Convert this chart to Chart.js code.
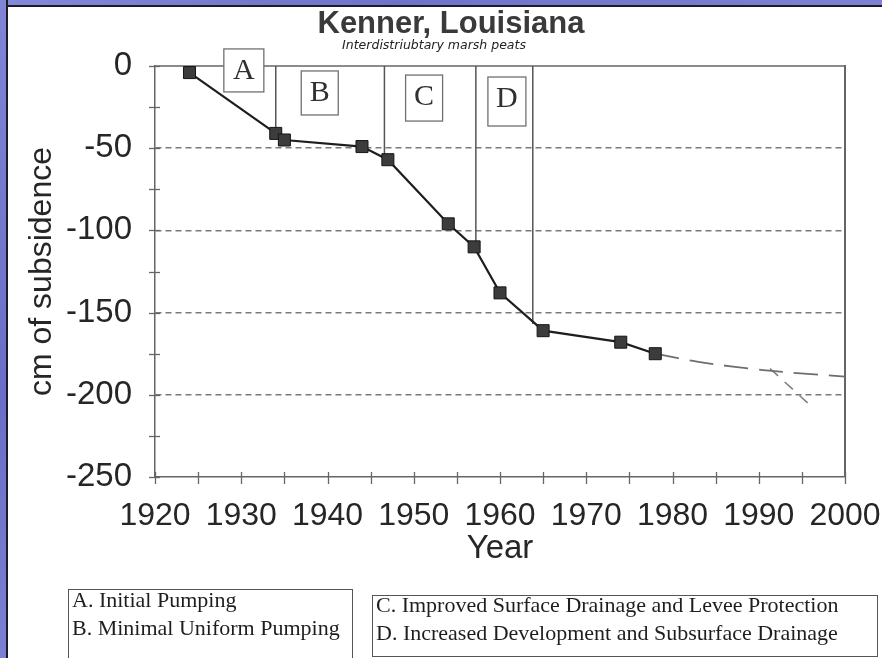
<!DOCTYPE html>
<html>
<head>
<meta charset="utf-8">
<script src="https://cdn.jsdelivr.net/npm/chart.js@4/dist/chart.umd.min.js"></script>
<style>
html,body{margin:0;padding:0;width:882px;height:658px;overflow:hidden;background:#fff;}
#wrap{position:relative;width:882px;height:658px;background:#fff;}
#c{position:absolute;left:0;top:0;}
.frameTop{position:absolute;left:0;top:0;width:882px;height:5px;background:linear-gradient(90deg,#8488d8,#6e72c9 45%,#7e82d4);border-bottom:2px solid #1c1c28;}
.frameLeft{position:absolute;left:0;top:0;width:6px;height:658px;background:linear-gradient(180deg,#8185d6,#6a6ec6 60%,#7c80d2);border-right:2px solid #1c1c28;}
.box{position:absolute;border:1px solid #555;box-sizing:border-box;}
.leg{position:absolute;font-family:"Liberation Serif","Times New Roman",serif;font-size:22px;line-height:28px;color:#1e1e1e;white-space:nowrap;}
</style>
</head>
<body>
<div id="wrap">
<canvas id="c" width="882" height="658"></canvas>
<div class="frameTop"></div>
<div class="frameLeft"></div>
<div class="box" style="left:68px;top:589px;width:285px;height:90px;"></div>
<div class="leg" style="left:72px;top:586px;">A. Initial Pumping</div>
<div class="leg" style="left:72px;top:614px;">B. Minimal Uniform Pumping</div>
<div class="box" style="left:372px;top:595px;width:506px;height:62px;"></div>
<div class="leg" style="left:376px;top:591px;">C. Improved Surface Drainage and Levee Protection</div>
<div class="leg" style="left:376px;top:619px;">D. Increased Development and Subsurface Drainage</div>
</div>
<script>
// ---- data ----
const years = [1924, 1934, 1935, 1944, 1947, 1954, 1957, 1960, 1965, 1974, 1978];
const subsidence = [-4, -41, -45, -49, -57, -96, -110, -138, -161, -168, -175];
const projYears = [1978, 1983, 1990.5, 2000];
const projValues = [-175, -180, -185, -189];
const branchYears = [1991.3, 1996.3];
const branchValues = [-184, -208];
const phaseLetters = ['A', 'B', 'C', 'D'];
const phaseYears = [1934, 1946.6, 1957.2, 1963.8];
const phaseBottoms = [-41, -55, -110, -157];
const letterYears = [1930.3, 1939.1, 1951.2, 1960.8];
const letterValues = [-2.7, -16.4, -19.5, -21.6];
const xTicks = [1920, 1930, 1940, 1950, 1960, 1970, 1980, 1990, 2000];
const yTicks = [0, -50, -100, -150, -200, -250];
const titleText = 'Kenner, Louisiana';
const subtitleText = 'Interdistriubtary marsh peats';
const xTitle = 'Year';
const yTitle = 'cm of subsidence';

// ---- styles ----
const letterBoxSize = [[40, 43], [37, 44], [37, 46], [38, 49]];
const SANS = '"Liberation Sans", Arial, sans-serif';
const SERIF = '"Liberation Serif", "Times New Roman", serif';

const toPts = (xs, ys) => xs.map((x, i) => ({x: x, y: ys[i]}));

const datasets = [
  {
    data: toPts(years, subsidence), showLine: true,
    borderColor: '#1e1e1e', borderWidth: 2.2,
    pointStyle: 'rect', pointRadius: 8.5, pointHoverRadius: 8.5,
    pointBackgroundColor: '#3c3c3c', pointBorderColor: '#161616', pointBorderWidth: 1
  },
  {
    data: toPts(projYears, projValues), showLine: true, tension: 0.25,
    borderColor: '#6e6e6e', borderWidth: 1.8, borderDash: [24, 11], pointRadius: 0
  },
  {
    data: toPts(branchYears, branchValues), showLine: true,
    borderColor: '#808080', borderWidth: 1.6, borderDash: [11, 9], pointRadius: 0
  }
];
phaseYears.forEach((yr, i) => {
  datasets.push({
    data: [{x: yr, y: 0}, {x: yr, y: phaseBottoms[i]}], showLine: true,
    borderColor: '#555', borderWidth: 1.5, pointRadius: 0
  });
});

const decor = {
  id: 'decor',
  beforeDatasetsDraw(chart) {
    const {ctx, chartArea: a} = chart;
    ctx.save();
    ctx.strokeStyle = '#666';
    ctx.lineWidth = 1.5;
    ctx.beginPath();
    ctx.moveTo(a.left, a.top); ctx.lineTo(a.right, a.top);
    ctx.stroke();
    ctx.lineWidth = 2;
    ctx.beginPath();
    ctx.moveTo(a.right, a.top - 1); ctx.lineTo(a.right, a.bottom);
    ctx.stroke();
    ctx.restore();
  },
  afterDatasetsDraw(chart) {
    const {ctx} = chart;
    const xs = chart.scales.x, ys = chart.scales.y;
    ctx.save();
    phaseLetters.forEach((L, i) => {
      const cx = xs.getPixelForValue(letterYears[i]);
      const cy = ys.getPixelForValue(letterValues[i]);
      const [w, h] = letterBoxSize[i];
      ctx.fillStyle = '#fff';
      ctx.fillRect(cx - w / 2, cy - h / 2, w, h);
      ctx.strokeStyle = '#707070';
      ctx.lineWidth = 1.3;
      ctx.strokeRect(cx - w / 2, cy - h / 2, w, h);
      ctx.fillStyle = '#303030';
      ctx.font = '30px ' + SERIF;
      ctx.textAlign = 'center';
      ctx.textBaseline = 'alphabetic';
      ctx.fillText(L, cx, cy - h / 2 + 30);
    });
    ctx.restore();
  },
  afterDraw(chart) {
    const {ctx, chartArea: a} = chart;
    const xs = chart.scales.x, ys = chart.scales.y;
    ctx.save();
    ctx.strokeStyle = '#666';
    ctx.lineWidth = 1.3;
    for (let v = xs.min; v <= xs.max; v += 5) {
      const px = Math.round(xs.getPixelForValue(v)) + 0.5;
      ctx.beginPath(); ctx.moveTo(px, a.bottom - 5); ctx.lineTo(px, a.bottom + 7); ctx.stroke();
    }
    for (let v = ys.max; v >= ys.min; v -= 25) {
      const py = Math.round(ys.getPixelForValue(v)) + 0.5;
      ctx.beginPath(); ctx.moveTo(a.left - 6, py); ctx.lineTo(a.left + 5, py); ctx.stroke();
    }
    ctx.fillStyle = '#3a3a3a';
    ctx.textAlign = 'center';
    ctx.textBaseline = 'alphabetic';
    ctx.font = 'bold 31px ' + SANS;
    ctx.fillText(titleText, 451, 33);
    ctx.fillStyle = '#222';
    ctx.font = 'italic 12.5px "DejaVu Sans", Verdana, sans-serif';
    ctx.fillText(subtitleText, 434, 49);
    ctx.restore();
  }
};

new Chart(document.getElementById('c'), {
  type: 'scatter',
  data: {datasets: datasets},
  plugins: [decor],
  options: {
    responsive: false,
    animation: false,
    events: [],
    layout: {padding: {top: 66, left: 0, right: 37, bottom: 0}},
    plugins: {legend: {display: false}, tooltip: {enabled: false}, title: {display: false}},
    scales: {
      x: {
        type: 'linear', min: 1920, max: 2000,
        afterBuildTicks: s => { s.ticks = xTicks.map(v => ({value: v})); },
        afterFit: s => { s.height = 181; s.paddingLeft = 0; s.paddingRight = 0; },
        grid: {display: false, drawTicks: false},
        border: {display: true, color: '#666', width: 1.5},
        ticks: {color: '#262626', font: {family: SANS, size: 32}, padding: 20, maxRotation: 0, autoSkip: false,
                callback: v => String(v)},
        title: {display: true, text: xTitle, color: '#262626', font: {family: SANS, size: 33}, padding: {top: 0, bottom: 89}}
      },
      y: {
        type: 'linear', min: -250, max: 0,
        afterBuildTicks: s => { s.ticks = yTicks.map(v => ({value: v})); },
        afterFit: s => { s.width = 155; s.paddingTop = 0; s.paddingBottom = 0; },
        grid: {
          drawTicks: false, lineWidth: 1.6,
          color: c => (c.tick && (c.tick.value === 0 || c.tick.value === -250)) ? 'rgba(0,0,0,0)' : '#7a7a7a'
        },
        border: {display: true, color: '#666', width: 1.5, dash: [6, 4]},
        ticks: {color: '#262626', font: {family: SANS, size: 33}, padding: 23, autoSkip: false,
                callback: v => String(v)},
        title: {display: true, text: yTitle, color: '#262626', font: {family: SANS, size: 32}, padding: {top: 23, bottom: 0}}
      }
    }
  }
});
</script>
</body>
</html>
